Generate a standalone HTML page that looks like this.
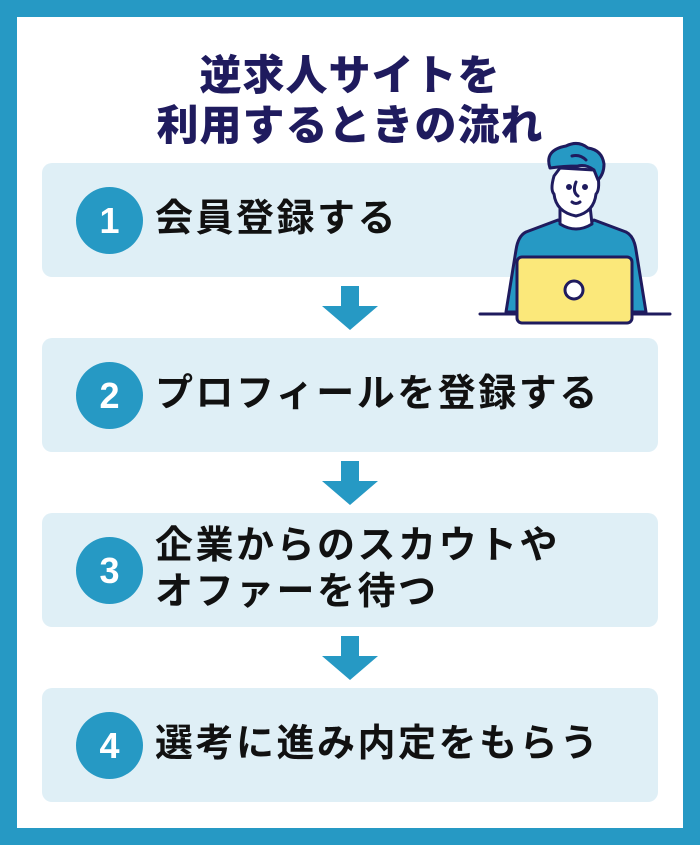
<!DOCTYPE html>
<html><head><meta charset="utf-8"><style>
body{margin:0;width:700px;height:845px;background:#2699c4;position:relative;overflow:hidden;font-family:"Liberation Sans","Noto Sans CJK JP",sans-serif}
.inner{position:absolute;left:17px;top:17px;width:666px;height:811px;background:#fff}
.title{position:absolute;left:0;width:700px;text-align:center;color:#1f1b5e;font-weight:900;font-size:42px;letter-spacing:1px;line-height:50px;top:51px}
.box{position:absolute;left:42px;width:616px;height:114px;background:#dfeff6;border-radius:10px}
.c{position:absolute;left:76px;width:67px;height:67px;border-radius:50%;background:#2699c4;color:#fff;font-weight:bold;font-size:36px;text-align:center;line-height:67px}
.t{position:absolute;left:155px;font-weight:bold;font-size:38px;letter-spacing:2.5px;color:#111;line-height:46px;white-space:nowrap}
.arr{position:absolute;left:322px}
</style></head><body>
<div class="inner"></div>
<div class="title">逆求人サイトを<br>利用するときの流れ</div>
<div class="box" style="top:163px"></div>
<div class="box" style="top:338px"></div>
<div class="box" style="top:513px"></div>
<div class="box" style="top:688px"></div>
<div class="c" style="top:187px">1</div>
<div class="c" style="top:362px">2</div>
<div class="c" style="top:537px">3</div>
<div class="c" style="top:712px">4</div>
<div class="t" style="top:196px">会員登録する</div>
<div class="t" style="top:371px">プロフィールを登録する</div>
<div class="t" style="top:523px">企業からのスカウトや<br>オファーを待つ</div>
<div class="t" style="top:721px">選考に進み内定をもらう</div>
<svg class="arr" style="top:286px" width="56" height="44"><path d="M19 0H37V20H56L28 44L0 20H19Z" fill="#2699c4"/></svg>
<svg class="arr" style="top:461px" width="56" height="44"><path d="M19 0H37V20H56L28 44L0 20H19Z" fill="#2699c4"/></svg>
<svg class="arr" style="top:636px" width="56" height="44"><path d="M19 0H37V20H56L28 44L0 20H19Z" fill="#2699c4"/></svg>
<svg style="position:absolute;left:470px;top:140px" width="210" height="200" viewBox="0 0 210 200" fill="none" stroke="#1f1b5e" stroke-width="3" stroke-linejoin="round" stroke-linecap="round">
<path d="M88 80 L56 92 Q48 96 46 110 L36 172 L176 172 L166 110 Q164 96 156 92 L124 80 Q106 92 88 80Z" fill="#2699c4"/>
<path d="M90 66 L90 84 Q106 94 122 84 L120 66Z" fill="#fff"/>
<path d="M84 36 Q80 50 84 54 Q86 72 106 76 Q124 72 126 54 Q130 50 128 36 L124 30 L90 28Z" fill="#fff"/>
<path d="M80 28 Q74 10 96 6 Q108 0 118 8 Q132 10 134 24 Q134 34 128 40 L124 30 Q116 24 108 26 Q94 26 80 28Z" fill="#2699c4"/>
<path d="M102 16 Q110 14 116 20"/>
<circle cx="99" cy="47" r="1.5" fill="#1f1b5e"/><circle cx="115" cy="47" r="1.5" fill="#1f1b5e"/>
<path d="M106 42 Q102 52 108 56"/><path d="M102 62 Q106 65 110 62"/>
<line x1="10" y1="174" x2="200" y2="174"/>
<rect x="47" y="117" width="115" height="66" rx="5" fill="#fbe87a"/>
<circle cx="104" cy="150" r="9" fill="#fff"/>
</svg>
</body></html>
